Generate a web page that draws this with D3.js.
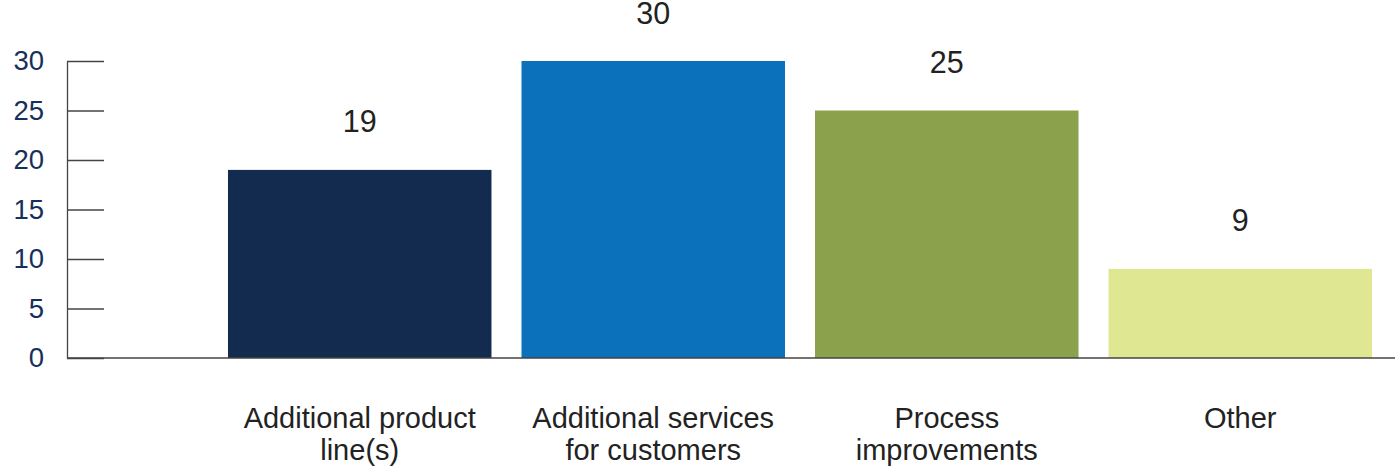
<!DOCTYPE html>
<html>
<head>
<meta charset="utf-8">
<script src="https://cdn.jsdelivr.net/npm/d3@7"></script>
<style>
  body { margin: 0; background: #fff; }
  text { font-family: "Liberation Sans", Arial, sans-serif; }
</style>
</head>
<body>
<div id="chart"></div>
<script>
// Daten
const categories = [["Additional product", "line(s)"], ["Additional services", "for customers"], ["Process", "improvements"], ["Other"]]
const values = [19, 30, 25, 9]
const colors = ["#122b4f", "#0b71bb", "#8ba14c", "#e0e793"]
const yTicks = [0, 5, 10, 15, 20, 25, 30]

const W = 1395, H = 466
const margin = { top: 61, left: 67, bottom: 108 }

const svg = d3.select("#chart").append("svg")
  .attr("width", W)
  .attr("height", H)

const keys = categories.map(c => c.join(" "))

// Skalen
const x = d3.scaleBand()
  .domain(keys)
  .range([213.3, 1386.7])
  .paddingInner(0.1023)
  .paddingOuter(0.05)

const y = d3.scaleLinear()
  .domain([0, 30])
  .range([H - margin.bottom, margin.top])

// Balken
svg.selectAll(".bar")
  .data(values)
  .enter().append("rect")
  .attr("class", "bar")
  .attr("x", (d, i) => x(keys[i]))
  .attr("y", d => y(d))
  .attr("width", x.bandwidth())
  .attr("height", d => y(0) - y(d))
  .attr("fill", (d, i) => colors[i])

// y-Achse
const yAxis = d3.axisLeft(y)
  .tickValues(yTicks)
  .tickSizeInner(-37)
  .tickSizeOuter(0)
  .tickPadding(23)

svg.append("g")
  .attr("class", "y axis")
  .attr("transform", "translate(" + margin.left + ",0)")
  .call(yAxis)
  .call(g => g.selectAll("line").attr("stroke", "#444").attr("stroke-width", 1.3))
  .call(g => g.select(".domain").attr("stroke", "#444").attr("stroke-width", 1.3))
  .call(g => g.selectAll("text")
    .attr("fill", "#17305a")
    .style("font-size", "27.5px")
    .style("font-family", "'Liberation Sans', Arial, sans-serif"))

// Grundlinie
svg.append("line")
  .attr("x1", margin.left)
  .attr("x2", W)
  .attr("y1", y(0))
  .attr("y2", y(0))
  .attr("stroke", "#444")
  .attr("stroke-width", 1.5)

// Werte über den Balken
svg.selectAll(".label")
  .data(values)
  .enter().append("text")
  .attr("class", "label")
  .attr("x", (d, i) => x(keys[i]) + x.bandwidth() / 2)
  .attr("y", d => y(d) - 37.5)
  .attr("text-anchor", "middle")
  .attr("fill", "#222")
  .style("font-size", "30.5px")
  .text(d => d)

// Kategorien
const cat = svg.selectAll(".cat")
  .data(categories)
  .enter().append("text")
  .attr("class", "cat")
  .attr("text-anchor", "middle")
  .attr("fill", "#222")
  .style("font-size", "29px")

cat.selectAll("tspan")
  .data((d, i) => d.map(t => ({ t, i })))
  .enter().append("tspan")
  .attr("x", d => x(keys[d.i]) + x.bandwidth() / 2)
  .attr("y", (d, j) => 428 + j * 32)
  .text(d => d.t)
</script>
</body>
</html>
